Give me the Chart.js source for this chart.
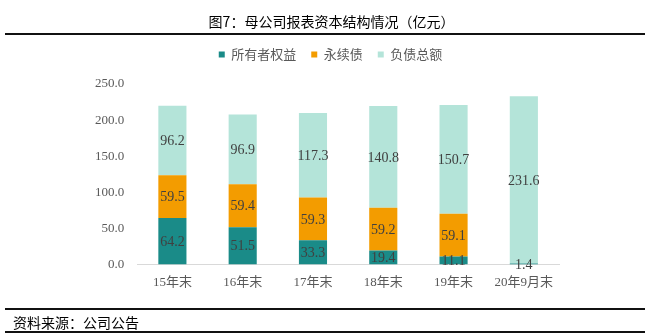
<!DOCTYPE html>
<html>
<head>
<meta charset="utf-8">
<script src="https://cdn.jsdelivr.net/npm/chart.js@4"></script>
<style>
    html, body { margin: 0; padding: 0; background: #fff; }
    #wrap { position: relative; width: 645px; height: 336px; overflow: hidden; }
    #chart { position: absolute; left: 0; top: 0; }
    .title {
        position: absolute; left: 9px; top: 11px; width: 645px; text-align: center;
        font: 14px 'Noto Sans CJK SC', sans-serif; color: #000; line-height: 20px;
    }
    .rule { position: absolute; left: 5px; width: 640px; height: 1.5px; background: #111; }
    .source {
        position: absolute; left: 13px; top: 312px;
        font: 14px 'Noto Sans CJK SC', sans-serif; color: #000; line-height: 20px;
    }
</style>
</head>
<body>
<div id="wrap">
    <canvas id="chart" width="645" height="336"></canvas>
    <div class="title">图7：母公司报表资本结构情况（亿元）</div>
    <div class="rule" style="top:33px"></div>
    <div class="rule" style="top:308px"></div>
    <div class="source">资料来源：公司公告</div>
    <div class="rule" style="top:331px"></div>
</div>
<script>
// ---- 數據 ----
const categories = ['15年末', '16年末', '17年末', '18年末', '19年末', '20年9月末'];
const seriesNames = ['所有者权益', '永续债', '负债总额'];
const ownersEquity = [64.2, 51.5, 33.3, 19.4, 11.1, 1.4];
const perpetualBonds = [59.5, 59.4, 59.3, 59.2, 59.1, 0];
const totalLiabilities = [96.2, 96.9, 117.3, 140.8, 150.7, 231.6];
const yTicks = [0, 50, 100, 150, 200, 250];

const COLORS = ['#1a8b88', '#f39c00', '#b4e4d9'];

// 柱內數值標籤
const barLabels = {
    id: 'barLabels',
    afterDatasetsDraw(chart) {
        const { ctx } = chart;
        ctx.save();
        ctx.font = '14px "Liberation Serif", serif';
        ctx.fillStyle = '#404040';
        ctx.textAlign = 'center';
        ctx.textBaseline = 'middle';
        chart.data.datasets.forEach((ds, i) => {
            chart.getDatasetMeta(i).data.forEach((bar, j) => {
                const v = ds.data[j];
                if (!v) return;
                const { x, y, base } = bar.getProps(['x', 'y', 'base'], true);
                ctx.fillText(v.toFixed(1), x, (y + base) / 2 + 1);
            });
        });
        ctx.restore();
    },
};

// 圖例與繪圖區之間多留一點空間，並稍微右移
const legendGap = {
    id: 'legendGap',
    beforeInit(chart) {
        const fit = chart.legend.fit;
        chart.legend.fit = function () {
            fit.bind(chart.legend)();
            this.height += 13;
        };
    },
    afterLayout(chart) {
        chart.legend.left += 10;
        chart.legend.right += 10;
    },
};

const series = [ownersEquity, perpetualBonds, totalLiabilities];

new Chart(document.getElementById('chart').getContext('2d'), {
    type: 'bar',
    data: {
        labels: categories,
        datasets: series.map((data, i) => ({
            label: seriesNames[i],
            data,
            backgroundColor: COLORS[i],
            borderWidth: 0,
            barPercentage: 0.4,
            categoryPercentage: 1,
        })),
    },
    options: {
        responsive: false,
        animation: false,
        layout: { padding: { top: 33, left: 82, right: 86, bottom: 36 } },
        scales: {
            x: {
                stacked: true,
                grid: { display: false, drawTicks: false },
                border: { color: '#d9d9d9', width: 1 },
                ticks: {
                    color: '#595959',
                    padding: 10,
                    font: { size: 13, family: "'Liberation Serif', 'Noto Sans CJK SC', serif" },
                },
            },
            y: {
                stacked: true,
                min: 0,
                max: 250,
                afterBuildTicks: (axis) => { axis.ticks = yTicks.map(v => ({ value: v })); },
                grid: { display: false, drawTicks: false },
                border: { display: false },
                ticks: {
                    color: '#595959',
                    padding: 13,
                    font: { size: 13, family: "'Liberation Serif', serif" },
                    callback: (v) => v.toFixed(1),
                },
            },
        },
        plugins: {
            legend: {
                position: 'top',
                labels: {
                    boxWidth: 6,
                    boxHeight: 6,
                    padding: 15,
                    color: '#595959',
                    font: { size: 13, family: "'Noto Sans CJK SC', sans-serif" },
                },
            },
            tooltip: { enabled: false },
        },
    },
    plugins: [barLabels, legendGap],
});
</script>
</body>
</html>
